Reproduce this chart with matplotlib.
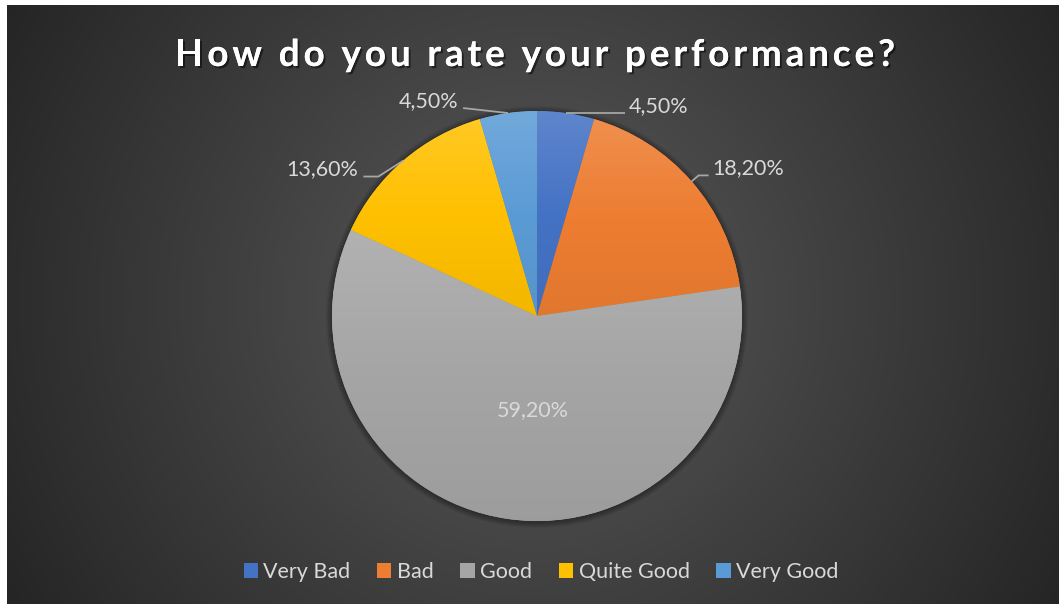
import matplotlib.pyplot as plt
import numpy as np
from matplotlib.colors import LinearSegmentedColormap, to_rgb
from matplotlib.font_manager import FontProperties
import matplotlib.patheffects as pe

categories = ["Very Bad", "Bad", "Good", "Quite Good", "Very Good"]
shares = [4.5, 18.2, 59.2, 13.6, 4.5]
colors = ["#4472C4", "#ED7D31", "#A5A5A5", "#FFC000", "#5B9BD5"]
title = "How do you rate your performance?"

W, H = 1059, 607
cx, cy, R = 537, H - 316, 205

plt.rcParams['font.family'] = ['Lato', 'DejaVu Sans']

fig = plt.figure(figsize=(W / 100, H / 100), dpi=100, facecolor="white")
ax = fig.add_axes([0, 0, 1, 1])

# radial background
gx, gy = np.meshgrid(np.linspace(7, W, 400), np.linspace(3, H - 5, 240))
dist = np.hypot(gx - 535, gy - (H - 300)) / 620
bg = 0x5a - (0x5a - 0x24) * np.clip(dist, 0, 1)
bg = np.dstack([bg, bg, bg]) / 255
ax.imshow(bg, extent=(7, W, 3, H - 5), origin="lower", aspect="auto",
          zorder=0, interpolation="bilinear")

# soft shadow around the pie
for i in range(6):
    ax.add_patch(plt.Circle((cx, cy - 1), R + 1 + i, color="black",
                            alpha=0.06, lw=0, zorder=1))

wedges, _ = ax.pie(shares, colors=colors, startangle=90, counterclock=False,
                   center=(cx, cy), radius=R, frame=True,
                   wedgeprops=dict(linewidth=0, zorder=2))

# vertical gradient fill per slice
ramp = np.linspace(0, 1, 256).reshape(-1, 1)
for w, c in zip(wedges, colors):
    base = np.array(to_rgb(c))
    top = base + (1 - base) * 0.14
    bottom = base * 0.95
    cmap = LinearSegmentedColormap.from_list("g", [bottom, base, top])
    x0, y0, x1, y1 = w.get_path().get_extents().extents
    im = ax.imshow(ramp, cmap=cmap, extent=(x0, x1, y0, y1), origin="lower",
                   aspect="auto", zorder=3, interpolation="bilinear")
    im.set_clip_path(w)

# outside labels with leader lines (offsets in pixels, y up)
label_color = "#D9D9D9"
line_color = "#A6A6A6"
leaders = {
    0: ((0, 0), 59, "left"),
    1: ((7, 6), 10, "left"),
    3: ((-25, -16), -15, "right"),
    4: ((-45, 5), 0, "right"),
}
cum = np.cumsum([0] + shares)
for i, v in enumerate(shares):
    mid = np.deg2rad(90 - (cum[i] + v / 2) * 3.6)
    txt = f"{v:.2f}%".replace(".", ",")
    if i not in leaders:
        ax.text(cx - 4, cy - 94, txt, ha="center", va="center",
                color=label_color, fontsize=15.5, zorder=5)
        continue
    (ex, ey), run, side = leaders[i]
    px, py = cx + R * np.cos(mid), cy + R * np.sin(mid)
    xs = [px, px + ex, px + ex + run]
    ys = [py, py + ey, py + ey]
    ax.plot(xs, ys, color=line_color, lw=1.3, zorder=4,
            solid_capstyle="butt")
    tx = xs[-1] + (4 if side == "left" else -5)
    ax.text(tx, ys[-1] + 7, txt, ha=side, va="center",
            color=label_color, fontsize=15.5, zorder=5)

# title, drawn letter by letter to get the wide tracking
renderer = fig.canvas.get_renderer()
tprop = FontProperties(family=["Lato", "DejaVu Sans"], weight="bold",
                       size=26.5)


def text_w(s):
    # pixel advance of s (dpi 100 == data units here)
    w, _, _ = renderer.get_text_width_height_descent(s + ".", tprop, False)
    w0, _, _ = renderer.get_text_width_height_descent(".", tprop, False)
    return w - w0


title_width = 720
track = (title_width - text_w(title)) / (len(title) - 1)
x_start = 535 - title_width / 2
shadow = [pe.withSimplePatchShadow(offset=(1.5, -1.5), shadow_rgbFace="black",
                                   alpha=0.5), pe.Normal()]
for i, ch in enumerate(title):
    if ch == " ":
        continue
    ax.text(x_start + text_w(title[:i]) + i * track, H - 66, ch,
            ha="left", va="baseline", color="white", fontproperties=tprop,
            zorder=5, path_effects=shadow)

leg = ax.legend(wedges, categories, loc="center", ncol=5, frameon=False,
                bbox_to_anchor=(541, 35), bbox_transform=ax.transData,
                fontsize=15.5, handlelength=0.66, handleheight=0.66,
                handletextpad=0.25, columnspacing=1.25,
                labelcolor=label_color)

ax.set_xlim(0, W)
ax.set_ylim(0, H)
ax.set_aspect("auto")
ax.axis("off")

fig.savefig("out.png", dpi=100, facecolor="white")
